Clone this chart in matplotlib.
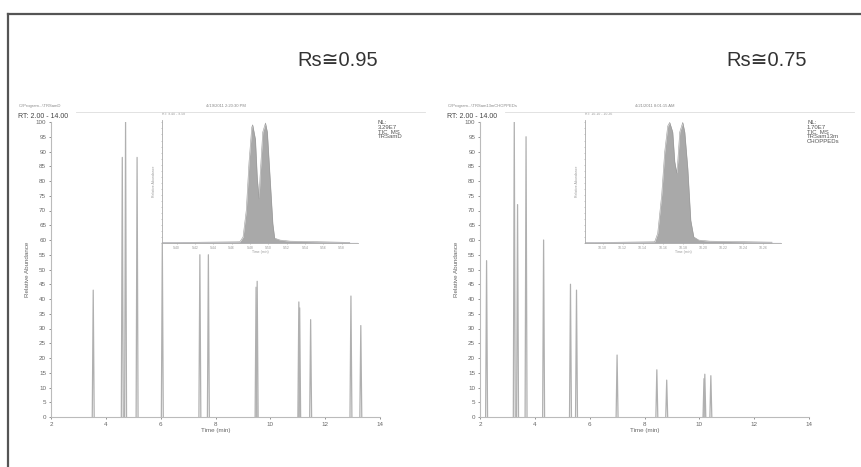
import matplotlib
matplotlib.use("Agg")
import matplotlib.pyplot as plt
from matplotlib.lines import Line2D

FONT = ["Liberation Sans", "DejaVu Sans"]
plt.rcParams["font.family"] = FONT

# --- main chromatograms: peak retention times (min) and heights (%) ---------
left_times = [3.54, 4.60, 4.72, 5.14, 6.06, 7.43, 7.74, 9.48, 9.52, 11.04, 11.07, 11.47, 12.94, 13.30]
left_heights = [43, 88, 100, 88, 59, 55, 55, 44, 46, 39, 37, 33, 41, 31]

right_times = [2.24, 3.25, 3.37, 3.68, 4.32, 5.30, 5.52, 7.00, 8.45, 8.81, 10.17, 10.20, 10.42]
right_heights = [53, 100, 72, 95, 60, 45, 43, 21, 16, 12.5, 13, 14.5, 14]

# --- zoomed insets: the critical pair of each run --------------------------
left_inset_t = [9.384, 9.469, 9.4725, 9.476, 9.479, 9.482, 9.483, 9.486, 9.488, 9.490,
                9.491, 9.494, 9.497, 9.499, 9.502, 9.505, 9.507, 9.513, 9.524, 9.589]
left_inset_y = [0.3, 1, 5, 27, 67, 96, 98, 86, 54, 36.5,
                54, 92, 99.5, 92, 54, 16, 4, 2.4, 1.5, 0.5]
left_inset_ticks = [9.40, 9.42, 9.44, 9.46, 9.48, 9.50, 9.52, 9.54, 9.56, 9.58]

right_inset_t = [10.0825, 10.152, 10.155, 10.159, 10.162, 10.165, 10.167, 10.170, 10.172,
                 10.174, 10.175, 10.177, 10.180, 10.182, 10.185, 10.188, 10.191, 10.196,
                 10.207, 10.269]
right_inset_y = [0.3, 1, 8, 40, 75.6, 97, 100, 92, 67.5,
                 58, 67.5, 92, 100, 92, 62, 18.7, 5, 2.4,
                 1.5, 0.7]
right_inset_ticks = [10.10, 10.12, 10.14, 10.16, 10.18, 10.20, 10.22, 10.24, 10.26]

W, H = 861, 467
fig = plt.figure(figsize=(W / 100, H / 100), dpi=100)


def fx(px):
    return px / W


def fy(py):
    return 1 - py / H


# frame (only top and left edges are inside the crop)
fig.add_artist(Line2D([fx(8), 1], [fy(14), fy(14)], color="#555555", lw=1.6))
fig.add_artist(Line2D([fx(8), fx(8)], [fy(14), 0], color="#555555", lw=1.6))


def panel(x0, times, heights, path, date, nl, rs, inset_t, inset_y, inset_ticks):
    ax = fig.add_axes([fx(x0), fy(417), fx(329), 295 / H])
    for t, h in zip(times, heights):
        ax.plot([t - 0.035, t, t + 0.035], [0, h, 0], color="#b0b0b0", lw=0.9)
    ax.set_xlim(2, 14)
    ax.set_ylim(0, 100)
    ax.set_xticks(range(2, 15, 2))
    ax.set_yticks(range(0, 101, 5))
    ax.tick_params(labelsize=4.5, colors="#666666", length=1.5, width=0.5, pad=2)
    for s in ("top", "right"):
        ax.spines[s].set_visible(False)
    for s in ("left", "bottom"):
        ax.spines[s].set_color("#bbbbbb")
        ax.spines[s].set_linewidth(0.8)
    ax.set_xlabel("Time (min)", fontsize=4.5, color="#666666", labelpad=1)
    ax.set_ylabel("Relative Abundance", fontsize=4.5, color="#666666", labelpad=4)

    # header lines
    fig.text(fx(x0 - 32), fy(106), path, fontsize=3, color="#888888", va="center")
    fig.text(fx(x0 + 175), fy(106), date, fontsize=3, color="#888888", va="center", ha="center")
    fig.text(fx(x0 - 33), fy(117), "RT: 2.00 - 14.00", fontsize=5, color="#444444", va="center")
    fig.add_artist(Line2D([fx(x0 + 25), fx(x0 + 374)], [fy(112), fy(112)],
                          color="#dddddd", lw=0.6))
    fig.text(fx(x0 + 327), fy(120), nl, fontsize=4.3, color="#555555", va="top",
             linespacing=0.95)
    fig.text(fx(x0 + 287), fy(60), rs, fontsize=14.5, color="#333333", ha="center",
             va="center", family=FONT)

    # inset with the critical pair
    ins_left = {51: 162, 480: 585}[x0]
    ia = fig.add_axes([fx(ins_left), fy(243), fx(196), 123 / H])
    ia.fill_between(inset_t, inset_y, color="#a9a9a9", lw=0)
    ia.plot(inset_t, inset_y, color="#999999", lw=0.4)
    ia.axhline(0.4, color="#8a8ac8", lw=0.8)
    ia.set_xlim(inset_t[0], inset_ticks[-1] + (inset_ticks[1] - inset_ticks[0]) * 0.9)
    ia.set_ylim(0, 102)
    ia.set_xticks(inset_ticks)
    ia.set_xticklabels([f"{v:.2f}" for v in inset_ticks])
    ia.set_yticks(range(0, 101, 5))
    ia.set_yticklabels([])
    ia.tick_params(labelsize=2.5, colors="#999999", length=1, width=0.4, pad=1)
    for s in ("top", "right"):
        ia.spines[s].set_visible(False)
    for s in ("left", "bottom"):
        ia.spines[s].set_color("#aaaaaa")
        ia.spines[s].set_linewidth(0.6)
    ia.set_xlabel("Time (min)", fontsize=2.5, color="#999999", labelpad=0.5)
    ia.set_ylabel("Relative Abundance", fontsize=2.5, color="#999999", labelpad=2)
    ia.text(0, 1.04, f"RT: {inset_ticks[0]:.2f} - {inset_ticks[-1]:.2f}", transform=ia.transAxes,
            fontsize=2.5, color="#999999")


panel(51, left_times, left_heights, "C:\\Program...\\TRSamD", "4/19/2011 2:20:30 PM",
      "NL:\n3.29E7\nTIC  MS\nTRSamD", "Rs\u22450.95",
      left_inset_t, left_inset_y, left_inset_ticks)
panel(480, right_times, right_heights, "C:\\Program...\\TRSam13mCHOPPEDs", "4/21/2011 8:01:15 AM",
      "NL:\n1.70E7\nTIC  MS\nTRSam13m\nCHOPPEDs", "Rs\u22450.75",
      right_inset_t, right_inset_y, right_inset_ticks)

fig.savefig("out.png", dpi=100)
